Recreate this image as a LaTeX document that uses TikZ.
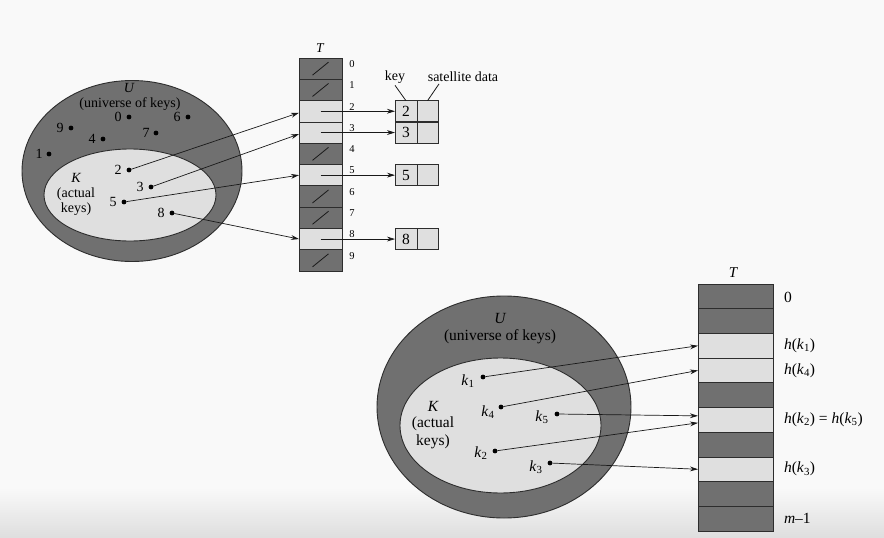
\documentclass[tikz,border=0pt]{standalone}
\usepackage{fontspec}
\setmainfont{Liberation Serif}
\usetikzlibrary{arrows.meta,shapes.geometric}
\definecolor{bg}{RGB}{249,249,249}
\definecolor{bgdark}{RGB}{222,222,222}
\definecolor{dk}{RGB}{112,112,112}
\definecolor{lt}{RGB}{223,223,223}
\definecolor{ln}{RGB}{45,45,45}
\begin{document}
\begin{tikzpicture}[x=1pt,y=-1pt,
  every node/.style={inner sep=0pt,outer sep=0pt},
  dot/.style={circle,fill=black,minimum size=4.8pt},
  txtA/.style={font=\fontsize{14}{15}\selectfont},
  txtB/.style={font=\fontsize{15.5}{17}\selectfont},
  idx/.style={font=\fontsize{10.5}{11}\selectfont},
  cellA/.style={draw=ln,line width=0.7pt,minimum width=43pt,minimum height=21.3pt},
  cellB/.style={draw=ln,line width=0.7pt,minimum width=75pt,minimum height=24.7pt},
  kbox/.style={draw=ln,fill=lt,line width=0.7pt,minimum width=22pt,minimum height=21pt,font=\fontsize{15.5}{16}\selectfont},
  sbox/.style={draw=ln,fill=lt,line width=0.7pt,minimum width=21pt,minimum height=21pt},
  outerell/.style={ellipse,draw=ln,fill=dk,line width=0.9pt},
  innerell/.style={ellipse,draw=ln,fill=lt,line width=0.9pt},
  arr/.style={-{Stealth[length=8pt,width=4.8pt]},line width=0.7pt,black!90},
  slash/.style={line width=0.8pt,black!90}
]
\useasboundingbox (0,0) rectangle (884,538);
\fill[bg] (0,0) rectangle (884,538);
\shade[top color=bg,bottom color=bgdark] (0,488) rectangle (884,538);

% ---------------- top-left diagram ----------------
\node[outerell,minimum width=220pt,minimum height=181pt] (U1) at (132,171) {};
\node[innerell,minimum width=172pt,minimum height=92pt] (K1) at (130,195) {};
\node[txtA,font=\fontsize{14}{15}\selectfont\itshape] (U1l) at (129,88) {U};
\node[txtA] (U1t) at (130,104) {(universe of keys)};
\node[txtA,font=\fontsize{14}{15}\selectfont\itshape] (K1l) at (76,178) {K};
\node[txtA] (K1t) at (76,194) {(actual};
\node[txtA] (K1u) at (76,209) {keys)};

\foreach \n/\lx/\dx/\y in {0/118/129/117, 6/177/188/117, 9/60/71/128, 7/146/156/133,
  4/92/103/139, 1/39/49/154, 2/118/129/170, 3/140/151/187, 5/113/124/202, 8/161/172/213} {
  \node[dot] (u\n) at (\dx,\y) {};
  \node[txtA] (lu\n) at (\lx,\y) {\n};
}

% table T (top)
\node[txtA,font=\fontsize{13.5}{14}\selectfont\itshape] (T1) at (320,48) {T};
\foreach \i/\c in {0/dk,1/dk,2/lt,3/lt,4/dk,5/lt,6/dk,7/dk,8/lt,9/dk} {
  \node[cellA,fill=\c] (a\i) at (320.5,{58+21.3*(\i+0.5)}) {};
  \node[idx] (ia\i) at (352,{58+21.3*\i+6}) {\i};
}
\foreach \i in {0,1,4,6,7,9}
  \draw[slash] ([xshift=-8pt,yshift=-6.5pt]a\i.center) -- ([xshift=8pt,yshift=6.5pt]a\i.center);

% satellite boxes
\foreach \i in {2,3,5,8} {
  \node[kbox] (b\i) at (406,{58+21.3*(\i+0.5)}) {\i};
  \node[sbox] (s\i) at (427.5,{58+21.3*(\i+0.5)}) {};
  \draw[arr] (a\i.center) -- (b\i.west);
}
\node[txtA] (keyl) at (395,77) {key};
\node[txtA] (satl) at (463,77) {satellite data};
\draw[slash] ([yshift=-2pt]keyl.south) -- (b2.north);
\draw[slash] ([xshift=-24pt,yshift=-2pt]satl.south) -- (s2.north);

% key arrows
\draw[arr] (u2) -- ([yshift=-1.5pt]a2.west);
\draw[arr] (u3) -- ([yshift=-1.5pt]a3.west);
\draw[arr] (u5) -- (a5.west);
\draw[arr] (u8) -- (a8.west);

% ---------------- bottom-right diagram ----------------
\node[outerell,minimum width=254pt,minimum height=222pt] (U2) at (504,407) {};
\node[innerell,minimum width=201pt,minimum height=135pt] (K2) at (500.5,425.5) {};
\node[txtB,font=\fontsize{15.5}{17}\selectfont\itshape] (U2l) at (500,318) {U};
\node[txtB] (U2t) at (500,337) {(universe of keys)};
\node[txtB,font=\fontsize{15.5}{17}\selectfont\itshape] (K2l) at (433,406) {K};
\node[txtB] (K2t) at (433,424) {(actual};
\node[txtB] (K2u) at (433,442) {keys)};

\foreach \n/\lx/\ly/\dx/\dy in {1/468/381/483/377, 4/488/412/501/407, 5/542/417/557/414,
  2/481/453/495/451, 3/536/467/550/463} {
  \node[dot] (k\n) at (\dx,\dy) {};
  \node[txtB] (lk\n) at (\lx,\ly) {\textit{k}\textsubscript{\n}};
}

\node[txtB,font=\fontsize{15}{16}\selectfont\itshape] (T2) at (733,273) {T};
\foreach \i/\c in {0/dk,1/dk,2/lt,3/lt,4/dk,5/lt,6/dk,7/lt,8/dk,9/dk}
  \node[cellB,fill=\c] (r\i) at (735.5,{284+24.7*(\i+0.5)}) {};

\node[txtB,anchor=west] (h0) at ([xshift=11pt,yshift=-1pt]r0.east) {0};
\node[txtB,anchor=west] (h2) at ([xshift=11pt]r2.east) {\textit{h}(\textit{k}\textsubscript{1})};
\node[txtB,anchor=west] (h3) at ([xshift=11pt]r3.east) {\textit{h}(\textit{k}\textsubscript{4})};
\node[txtB,anchor=west] (h5) at ([xshift=11pt]r5.east) {\textit{h}(\textit{k}\textsubscript{2}) = \textit{h}(\textit{k}\textsubscript{5})};
\node[txtB,anchor=west] (h7) at ([xshift=11pt]r7.east) {\textit{h}(\textit{k}\textsubscript{3})};
\node[txtB,anchor=west] (h9) at ([xshift=11pt]r9.east) {\textit{m}–1};

\draw[arr] (k1) -- (r2.west);
\draw[arr] (k4) -- (r3.west);
\draw[arr] (k5) -- ([yshift=4pt]r5.west);
\draw[arr] (k2) -- ([yshift=-3pt]r5.west);
\draw[arr] (k3) -- (r7.west);
\end{tikzpicture}
\end{document}
